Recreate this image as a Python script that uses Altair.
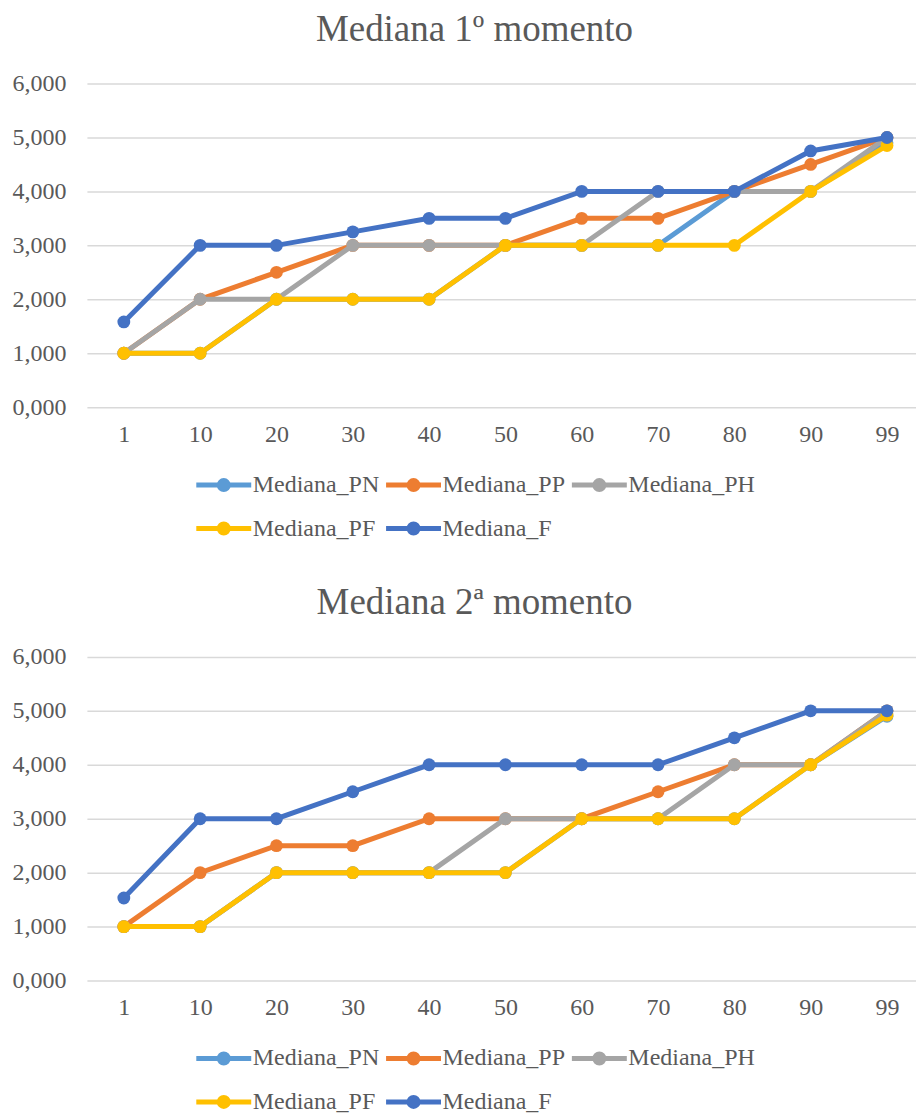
import altair as alt
import pandas as pd

# Percentiles on the x axis
percentis = ["1", "10", "20", "30", "40", "50", "60", "70", "80", "90", "99"]

# Series names and their colours (drawing order: first at the bottom)
series = ["Mediana_PN", "Mediana_PP", "Mediana_PH", "Mediana_PF", "Mediana_F"]
cores = ["#5B9BD5", "#ED7D31", "#A5A5A5", "#FFC000", "#4472C4"]

# Median, first moment
m1_pn = [1, 1, 2, 2, 2, 3, 3, 3, 4, 4, 4.9]
m1_pp = [1, 2, 2.5, 3, 3, 3, 3.5, 3.5, 4, 4.5, 5]
m1_ph = [1, 2, 2, 3, 3, 3, 3, 4, 4, 4, 5]
m1_pf = [1, 1, 2, 2, 2, 3, 3, 3, 3, 4, 4.85]
m1_f = [1.58, 3, 3, 3.25, 3.5, 3.5, 4, 4, 4, 4.75, 5]

# Median, second moment
m2_pn = [1, 1, 2, 2, 2, 2, 3, 3, 3, 4, 4.9]
m2_pp = [1, 2, 2.5, 2.5, 3, 3, 3, 3.5, 4, 4, 5]
m2_ph = [1, 1, 2, 2, 2, 3, 3, 3, 4, 4, 5]
m2_pf = [1, 1, 2, 2, 2, 2, 3, 3, 3, 4, 4.92]
m2_f = [1.53, 3, 3, 3.5, 4, 4, 4, 4, 4.5, 5, 5]

FONT = "Liberation Serif"
GREY_TEXT = "#595959"

# Legend glyph: a horizontal stroke with a dot on it (two concentric stroked
# rings make a solid dot). Units are 10 px at symbolSize=400; the glyph is
# shifted right so the stroke starts at the entry's left edge.
LEGEND_SYMBOL = (
    "M-1,0L4.5,0"
    "M1.3,0A0.45,0.45,0,1,1,2.2,0A0.45,0.45,0,1,1,1.3,0Z"
    "M1.55,0A0.2,0.2,0,1,1,1.95,0A0.2,0.2,0,1,1,1.55,0Z"
)


def long_table(cols):
    rows = []
    for nome, valores in zip(series, cols):
        for p, v in zip(percentis, valores):
            rows.append({"percentil": p, "serie": nome, "valor": v})
    return pd.DataFrame(rows)


def painel(titulo, cols):
    df = long_table(cols)
    base = alt.Chart(df).encode(
        x=alt.X(
            "percentil:N",
            sort=percentis,
            scale=alt.Scale(type="point", padding=0.432, align=0.56),
            axis=alt.Axis(
                title=None,
                labelAngle=0,
                domain=False,
                ticks=False,
                grid=False,
                labelFont=FONT,
                labelFontSize=24,
                labelColor=GREY_TEXT,
                labelPadding=15,
            ),
        ),
        y=alt.Y(
            "valor:Q",
            scale=alt.Scale(domain=[0, 6], nice=False),
            axis=alt.Axis(
                title=None,
                values=[0, 1, 2, 3, 4, 5, 6],
                labelExpr="replace(format(datum.value, '.3f'), '.', ',')",
                domain=False,
                ticks=False,
                tickSize=0,
                grid=True,
                gridColor="#D9D9D9",
                gridWidth=1.5,
                labelFont=FONT,
                labelFontSize=24,
                labelColor=GREY_TEXT,
                labelPadding=21,
                minExtent=74,
                maxExtent=74,
            ),
        ),
        color=alt.Color(
            "serie:N",
            scale=alt.Scale(domain=series, range=cores),
            legend=alt.Legend(
                title=None,
                orient="none",
                legendX=107,
                legendY=389,
                direction="horizontal",
                columns=3,
                columnPadding=-4,
                rowPadding=13,
                padding=0,
                symbolType=LEGEND_SYMBOL,
                symbolSize=400,
                symbolStrokeWidth=5,
                labelFont=FONT,
                labelFontSize=24,
                labelColor=GREY_TEXT,
                labelOffset=34,
                labelLimit=300,
            ),
        ),
    )

    camadas = []
    for nome in series:
        sub = base.transform_filter(alt.datum.serie == nome)
        camadas.append(sub.mark_line(strokeWidth=5))
        camadas.append(sub.mark_circle(size=165, opacity=1))

    return alt.layer(*camadas).properties(
        width=830,
        height=324,
        title=alt.TitleParams(
            titulo,
            font=FONT,
            fontSize=37,
            fontWeight="normal",
            color=GREY_TEXT,
            anchor="middle",
            dx=-27,
            offset=23,
        ),
    )


chart = (
    alt.vconcat(
        painel("Mediana 1º momento", [m1_pn, m1_pp, m1_ph, m1_pf, m1_f]),
        painel("Mediana 2ª momento", [m2_pn, m2_pp, m2_ph, m2_pf, m2_f]),
        spacing=40,
    )
    .resolve_scale(color="independent")
    .resolve_legend(color="independent")
    .properties(
        padding={"left": 12, "top": 10, "right": 0, "bottom": 0},
        background="white",
    )
    .configure_view(strokeWidth=0, stroke=None)
)

chart.save("out.html", embed_options={"renderer": "svg", "actions": False})
